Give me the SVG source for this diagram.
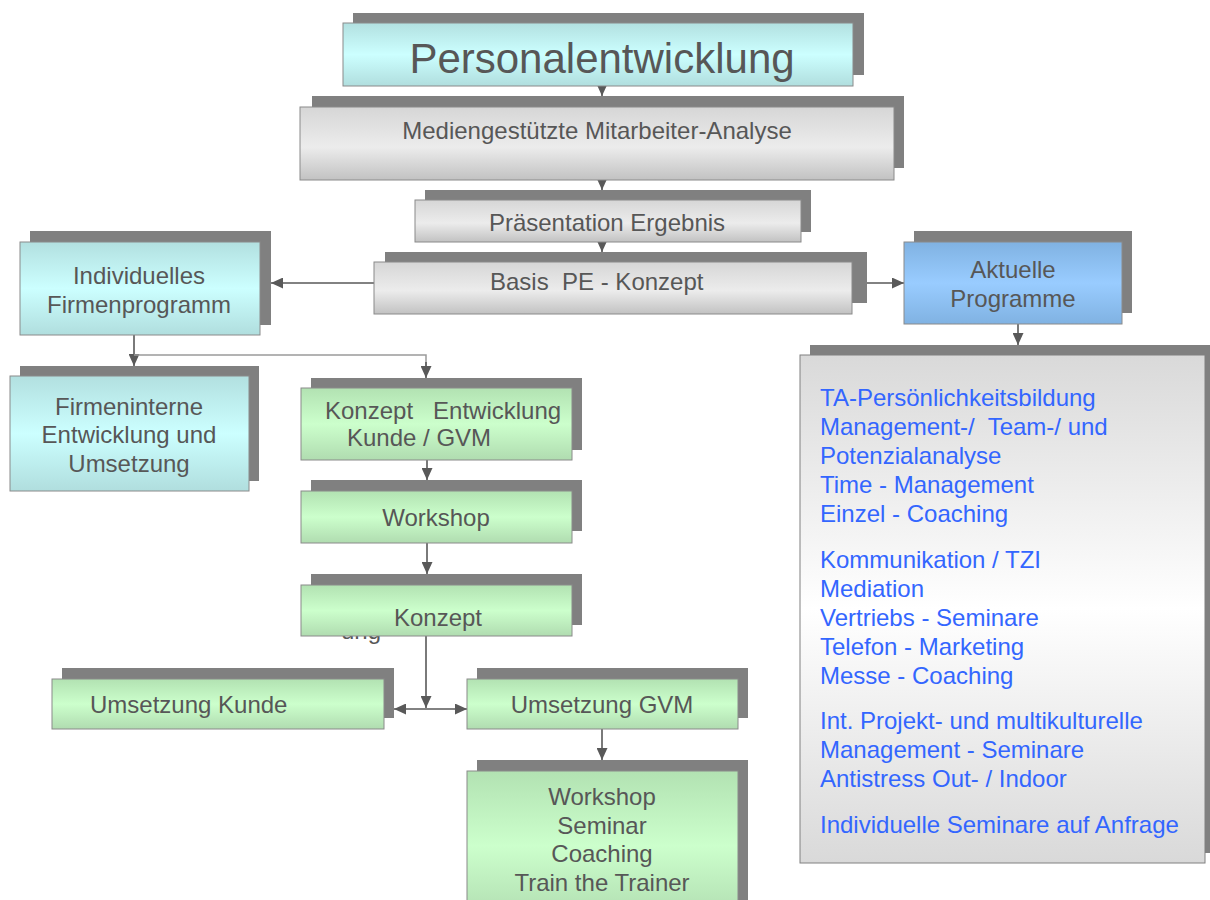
<svg xmlns="http://www.w3.org/2000/svg" width="1210" height="900" viewBox="0 0 1210 900">
<defs>
<linearGradient id="gCyan" x1="0" y1="0" x2="0" y2="1">
<stop offset="0" stop-color="#b2e0e0"/><stop offset="0.5" stop-color="#ccffff"/><stop offset="1" stop-color="#b0dede"/>
</linearGradient>
<linearGradient id="gGray" x1="0" y1="0" x2="0" y2="1">
<stop offset="0" stop-color="#d6d6d6"/><stop offset="0.55" stop-color="#ececec"/><stop offset="1" stop-color="#c2c2c2"/>
</linearGradient>
<linearGradient id="gGreen" x1="0" y1="0" x2="0" y2="1">
<stop offset="0" stop-color="#b2e2b2"/><stop offset="0.5" stop-color="#ccffcc"/><stop offset="1" stop-color="#b0dcb0"/>
</linearGradient>
<linearGradient id="gBlue" x1="0" y1="0" x2="0" y2="1">
<stop offset="0" stop-color="#80b2e2"/><stop offset="0.5" stop-color="#99ccff"/><stop offset="1" stop-color="#80b2e2"/>
</linearGradient>
<linearGradient id="gPanel" x1="0" y1="0" x2="0" y2="1">
<stop offset="0" stop-color="#d9d9d9"/><stop offset="0.5" stop-color="#ffffff"/><stop offset="1" stop-color="#d9d9d9"/>
</linearGradient>
<marker id="arr" viewBox="0 0 12 11" refX="12" refY="5.5" markerWidth="12" markerHeight="11" markerUnits="userSpaceOnUse" orient="auto-start-reverse">
<path d="M0,0 L12,5.5 L0,11 Z" fill="#595959"/>
</marker>
</defs>
<style>
.sh{fill:#808080}
.bx{stroke:#8a8a8a;stroke-width:1}
.cy{fill:url(#gCyan)}
.gr{fill:url(#gGray)}
.gn{fill:url(#gGreen)}
.bl{fill:url(#gBlue)}
.pn{fill:url(#gPanel)}
.t{font-family:"Liberation Sans",Arial,sans-serif;font-size:24px;fill:#575757}
.c{text-anchor:middle}
.b{font-family:"Liberation Sans",Arial,sans-serif;font-size:24px;fill:#3366ff}
.ln{fill:none;stroke:#595959;stroke-width:1.6}
.lt{fill:none;stroke:#9a9a9a;stroke-width:1.5}
</style>
<rect width="1210" height="900" fill="#ffffff"/>

<g id="connectors">
<line class="ln" x1="602" y1="86" x2="602" y2="96" marker-end="url(#arr)"/>
<line class="ln" x1="602" y1="180" x2="602" y2="190" marker-end="url(#arr)"/>
<line class="ln" x1="602" y1="242" x2="602" y2="252" marker-end="url(#arr)"/>
<line class="ln" x1="374" y1="283" x2="271" y2="283" marker-end="url(#arr)"/>
<line class="ln" x1="852" y1="283" x2="904" y2="283" marker-end="url(#arr)"/>
<line class="ln" x1="1018" y1="324" x2="1018" y2="345" marker-end="url(#arr)"/>
<line class="ln" x1="134" y1="335" x2="134" y2="366" marker-end="url(#arr)"/>
<polyline class="lt" points="134,355 426,355 426,366"/>
<line class="ln" x1="426" y1="362" x2="426" y2="378" marker-end="url(#arr)"/>
<line class="ln" x1="427" y1="460" x2="427" y2="480" marker-end="url(#arr)"/>
<line class="ln" x1="427" y1="543" x2="427" y2="574" marker-end="url(#arr)"/>
<line class="ln" x1="426" y1="636" x2="426" y2="708" marker-end="url(#arr)"/>
<line class="ln" x1="394" y1="709" x2="467" y2="709" marker-start="url(#arr)" marker-end="url(#arr)"/>
<line class="ln" x1="602" y1="729" x2="602" y2="760" marker-end="url(#arr)"/>
</g>

<g id="personalentwicklung">
<rect class="sh" x="353" y="13" width="511" height="62"/>
<rect class="bx cy" x="343" y="23" width="510" height="63"/>
<text class="t c" x="602" y="73" style="font-size:42px">Personalentwicklung</text>
</g>

<g id="analyse">
<rect class="sh" x="312" y="96" width="592" height="72"/>
<rect class="bx gr" x="300" y="107" width="594" height="73"/>
<text class="t c" x="597" y="139">Mediengestützte Mitarbeiter-Analyse</text>
</g>

<g id="praesentation">
<rect class="sh" x="425" y="190" width="386" height="42"/>
<rect class="bx gr" x="415" y="200" width="386" height="42"/>
<text class="t c" x="607" y="231">Präsentation Ergebnis</text>
</g>

<g id="basis">
<rect class="sh" x="385" y="252" width="482" height="51"/>
<rect class="bx gr" x="374" y="262" width="478" height="52"/>
<text class="t" x="490" y="290" xml:space="preserve">Basis  PE - Konzept</text>
</g>

<g id="individuelles">
<rect class="sh" x="30" y="231" width="241" height="94"/>
<rect class="bx cy" x="20" y="242" width="240" height="93"/>
<text class="t c" x="139" y="284">Individuelles</text>
<text class="t c" x="139" y="313">Firmenprogramm</text>
</g>

<g id="aktuelle">
<rect class="sh" x="914" y="231" width="218" height="82"/>
<rect class="bx bl" x="904" y="242" width="218" height="82"/>
<text class="t c" x="1013" y="278">Aktuelle</text>
<text class="t c" x="1013" y="307">Programme</text>
</g>

<g id="programme-liste">
<rect class="sh" x="810" y="345" width="400" height="508"/>
<rect class="pn" x="800" y="355" width="405" height="508" stroke="#808080" stroke-width="1"/>
<text class="b" x="820" y="406">TA-Persönlichkeitsbildung</text>
<text class="b" x="820" y="435" xml:space="preserve">Management-/  Team-/ und</text>
<text class="b" x="820" y="464">Potenzialanalyse</text>
<text class="b" x="820" y="493">Time - Management</text>
<text class="b" x="820" y="522">Einzel - Coaching</text>
<text class="b" x="820" y="568">Kommunikation / TZI</text>
<text class="b" x="820" y="597">Mediation</text>
<text class="b" x="820" y="626">Vertriebs - Seminare</text>
<text class="b" x="820" y="655">Telefon - Marketing</text>
<text class="b" x="820" y="684">Messe - Coaching</text>
<text class="b" x="820" y="729">Int. Projekt- und multikulturelle</text>
<text class="b" x="820" y="758">Management - Seminare</text>
<text class="b" x="820" y="787">Antistress Out- / Indoor</text>
<text class="b" x="820" y="833">Individuelle Seminare auf Anfrage</text>
</g>

<g id="firmeninterne">
<rect class="sh" x="20" y="366" width="239" height="115"/>
<rect class="bx cy" x="10" y="376" width="239" height="115"/>
<text class="t c" x="129" y="415">Firmeninterne</text>
<text class="t c" x="129" y="443">Entwicklung und</text>
<text class="t c" x="129" y="472">Umsetzung</text>
</g>

<g id="konzept-entwicklung">
<rect class="sh" x="311" y="378" width="271" height="72"/>
<rect class="bx gn" x="301" y="388" width="271" height="72"/>
<text class="t" x="325" y="419" xml:space="preserve">Konzept   Entwicklung</text>
<text class="t" x="347" y="446">Kunde / GVM</text>
</g>

<g id="workshop">
<rect class="sh" x="311" y="480" width="271" height="51"/>
<rect class="bx gn" x="301" y="491" width="271" height="52"/>
<text class="t c" x="436" y="526">Workshop</text>
</g>

<g id="konzept">
<text class="t" x="341" y="639">ung</text>
<rect class="sh" x="311" y="574" width="271" height="51"/>
<rect class="bx gn" x="301" y="585" width="271" height="51"/>
<text class="t c" x="438" y="626">Konzept</text>
</g>

<g id="umsetzung-kunde">
<rect class="sh" x="62" y="668" width="332" height="50"/>
<rect class="bx gn" x="52" y="679" width="332" height="50"/>
<text class="t" x="90" y="713">Umsetzung Kunde</text>
</g>

<g id="umsetzung-gvm">
<rect class="sh" x="477" y="668" width="271" height="50"/>
<rect class="bx gn" x="467" y="679" width="271" height="50"/>
<text class="t c" x="602" y="713">Umsetzung GVM</text>
</g>

<g id="angebote">
<rect class="sh" x="477" y="760" width="271" height="150"/>
<rect class="bx gn" x="467" y="771" width="271" height="150"/>
<text class="t c" x="602" y="805">Workshop</text>
<text class="t c" x="602" y="834">Seminar</text>
<text class="t c" x="602" y="862">Coaching</text>
<text class="t c" x="602" y="891">Train the Trainer</text>
</g>
</svg>
